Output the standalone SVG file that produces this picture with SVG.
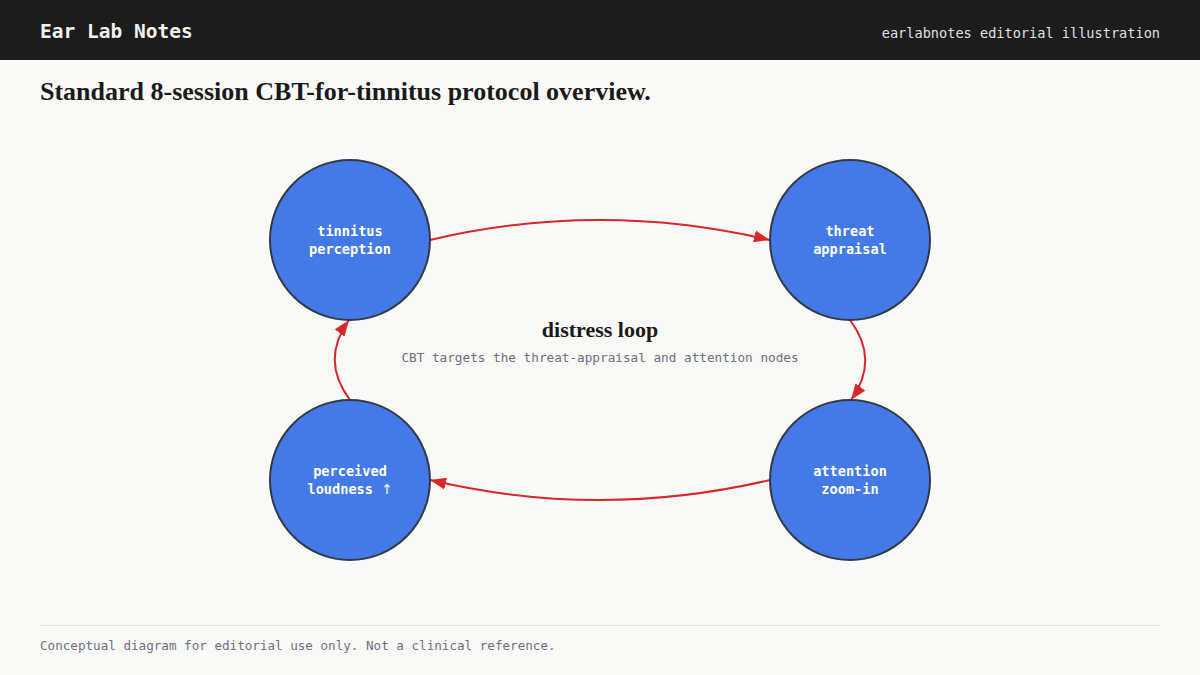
<svg xmlns="http://www.w3.org/2000/svg" width="1200" height="675" viewBox="0 0 1200 675">
<style>
.mono{font-family:"DejaVu Sans Mono","Liberation Mono",monospace}
.serif{font-family:"Liberation Serif","Times New Roman",serif;font-weight:bold;fill:#1a1a1a}
.node circle{fill:#4479e8;stroke:#333a44;stroke-width:2}
.node text{font-family:"DejaVu Sans Mono","Liberation Mono",monospace;font-weight:bold;font-size:13.6px;fill:#ffffff;text-anchor:middle}
.edge{fill:none;stroke:#d62828;stroke-width:2;marker-end:url(#ah)}
</style>
<defs>
<marker id="ah" viewBox="0 0 16 12" refX="16" refY="6" markerWidth="16" markerHeight="12" markerUnits="userSpaceOnUse" orient="auto">
<path d="M0,0 L16,6 L0,12 Z" fill="#d62828"/>
</marker>
</defs>
<rect width="1200" height="675" fill="#f9f9f7"/>
<rect width="1200" height="60" fill="#1c1c1c"/>
<text x="40" y="38" class="mono" font-size="19.5" font-weight="bold" fill="#f2f2f2">Ear Lab Notes</text>
<text x="1160" y="38" class="mono" font-size="13.6" fill="#e0e0e0" text-anchor="end">earlabnotes editorial illustration</text>
<text x="40" y="100" class="serif" font-size="26">Standard 8-session CBT-for-tinnitus protocol overview.</text>
<g id="connectors">
<path class="edge" d="M430,240 Q600,200 770,240"/>
<path class="edge" d="M850,320 Q880,360 851,400"/>
<path class="edge" d="M770,480 Q600,520 430,480"/>
<path class="edge" d="M350,400 Q320,360 349,320"/>
</g>
<g id="node-tinnitus" class="node">
<circle cx="350" cy="240" r="80"/>
<text x="350" y="236">tinnitus</text>
<text x="350" y="254">perception</text>
</g>
<g id="node-threat" class="node">
<circle cx="850" cy="240" r="80"/>
<text x="850" y="236">threat</text>
<text x="850" y="254">appraisal</text>
</g>
<g id="node-attention" class="node">
<circle cx="850" cy="480" r="80"/>
<text x="850" y="476">attention</text>
<text x="850" y="494">zoom-in</text>
</g>
<g id="node-loudness" class="node">
<circle cx="350" cy="480" r="80"/>
<text x="350" y="476">perceived</text>
<text x="350" y="494">loudness <tspan font-family="DejaVu Sans, sans-serif" font-weight="normal">↑</tspan></text>
</g>
<text x="600" y="337" class="serif" font-size="22" text-anchor="middle">distress loop</text>
<text x="600" y="362" class="mono" font-size="12.7" fill="#6b7080" text-anchor="middle">CBT targets the threat-appraisal and attention nodes</text>
<line x1="40" y1="625.5" x2="1160" y2="625.5" stroke="#e6e6e3" stroke-width="1"/>
<text x="40" y="650" class="mono" font-size="12.6" fill="#6b7080">Conceptual diagram for editorial use only. Not a clinical reference.</text>
</svg>
